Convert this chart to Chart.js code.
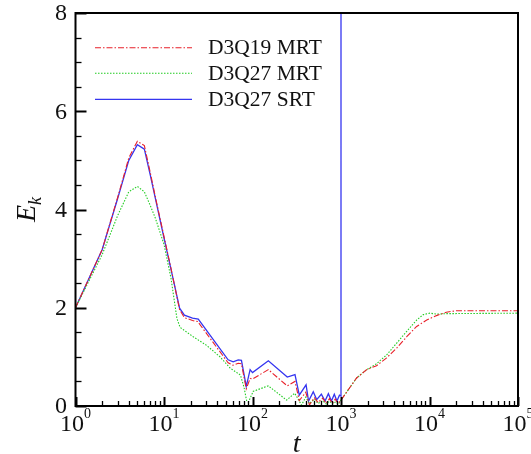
<!DOCTYPE html>
<html>
<head>
<meta charset="utf-8">
<script src="https://cdn.jsdelivr.net/npm/chart.js@4/dist/chart.umd.min.js"></script>
<style>
  html, body { margin: 0; padding: 0; background: #fff; }
  canvas { display: block; }
  #fontWarm { position: absolute; left: -9999px; top: 0; font-family: "Liberation Serif"; }
</style>
</head>
<body>
<canvas id="ekChart" width="531" height="454"></canvas>
<span id="fontWarm">D3Q19 MRT 0123456789 <i>E k t</i></span>
<script>
// series labels
const seriesNames = ['D3Q19 MRT', 'D3Q27 MRT', 'D3Q27 SRT'];

// D3Q19 MRT (red, dash-dot)
const q19mrtT = [1, 2, 3, 4, 5, 6, 7, 8, 10, 12, 15, 17, 21, 24, 53, 60, 69, 75, 85, 94, 100, 151, 247, 302, 338, 400, 440, 500, 550, 620, 680, 740, 800, 860, 930, 1000,
  1500, 1950, 2520, 3280, 4260, 5530, 7160, 9300, 12000, 15500, 20300, 100000];
const q19mrtE = [2.0, 3.18, 4.25, 5.05, 5.39, 5.3, 4.75, 4.25, 3.45, 2.8, 1.96, 1.8, 1.74, 1.72, 0.88, 0.83, 0.87, 0.86, 0.35, 0.56, 0.55, 0.74, 0.41, 0.5, 0.11, 0.28, 0.02, 0.17, 0.07, 0.16, 0.05, 0.15, 0.05, 0.14, 0.05, 0.12,
  0.57, 0.74, 0.82, 0.98, 1.18, 1.41, 1.62, 1.75, 1.84, 1.91, 1.94, 1.94];

// D3Q27 MRT (green, dotted)
const q27mrtT = [1, 2, 3, 4, 5, 6, 7, 8, 10, 12, 14, 15.2, 21.4, 30, 43, 56, 73, 80, 86, 90, 102, 151, 243, 300, 358, 400, 440, 500, 550, 620, 680, 740, 800, 860, 930, 1000,
  1500, 1950, 2520, 3280, 4260, 5530, 7160, 8510, 10100, 12000, 15500, 100000];
const q27mrtE = [2.0, 3.08, 3.88, 4.36, 4.47, 4.36, 4.08, 3.82, 3.29, 2.6, 1.78, 1.6, 1.41, 1.24, 1.0, 0.77, 0.63, 0.39, 0.1, 0.08, 0.3, 0.41, 0.12, 0.26, 0.02, 0.18, 0.05, 0.14, 0.05, 0.11, 0.04, 0.1, 0.04, 0.08, 0.03, 0.12,
  0.57, 0.74, 0.86, 1.04, 1.28, 1.52, 1.75, 1.86, 1.89, 1.87, 1.88, 1.89];

// D3Q27 SRT (blue, solid) - blows up at t = 1000
const q27srtT = [1, 2, 3, 4, 5, 6, 7, 8, 10, 12, 15, 17, 21, 24.4, 53, 60.5, 69, 75, 85, 94, 100, 151, 247, 302, 338, 403, 430, 486, 531, 600, 660, 720, 780, 840, 900, 960, 1000, 1000];
const q27srtE = [2.0, 3.18, 4.23, 5.0, 5.32, 5.23, 4.7, 4.22, 3.42, 2.78, 1.99, 1.85, 1.79, 1.77, 0.94, 0.9, 0.94, 0.93, 0.4, 0.74, 0.68, 0.92, 0.59, 0.64, 0.22, 0.43, 0.1, 0.29, 0.13, 0.24, 0.1, 0.25, 0.1, 0.24, 0.1, 0.22, 0.2, 50];

// axis ticks
const xDecades = [0, 1, 2, 3, 4, 5];
const yMajor = [0, 2, 4, 6, 8];
const yMinorStep = 0.5;

const SERIF = '"Liberation Serif", "Times New Roman", Times, serif';

function toPoints(ts, es) {
  return ts.map((t, i) => ({ x: t, y: es[i] }));
}

// frame, inward ticks and tick labels
const axesPlugin = {
  id: 'axesPlugin',
  afterDatasetsDraw(chart) {
    const { ctx, chartArea: a, scales } = chart;
    const xs = scales.x, ys = scales.y;
    ctx.save();
    ctx.strokeStyle = '#000';

    // y ticks
    for (let v = 0; v <= 8 + 1e-9; v += yMinorStep) {
      const py = Math.round(ys.getPixelForValue(v)) + 0.5;
      const major = yMajor.includes(v);
      ctx.lineWidth = major ? 2 : 1.3;
      ctx.beginPath();
      ctx.moveTo(a.left, py);
      ctx.lineTo(a.left + (major ? 11 : 6), py);
      ctx.stroke();
    }

    // x ticks
    xDecades.forEach(d => {
      for (let m = 1; m <= 9; m++) {
        if (d === 5 && m > 1) break;
        const px = Math.round(xs.getPixelForValue(m * Math.pow(10, d))) + 0.5;
        const major = m === 1;
        ctx.lineWidth = major ? 2 : 1.3;
        ctx.beginPath();
        ctx.moveTo(px, a.bottom);
        ctx.lineTo(px, a.bottom - (major ? 9 : 5));
        ctx.stroke();
      }
    });

    // frame
    ctx.lineWidth = 2;
    ctx.strokeRect(a.left, a.top, a.right - a.left, a.bottom - a.top);

    // y labels
    ctx.fillStyle = '#111';
    ctx.font = '24px ' + SERIF;
    ctx.textAlign = 'right';
    ctx.textBaseline = 'middle';
    yMajor.forEach(v => {
      ctx.fillText(String(v), 67, ys.getPixelForValue(v) + 1);
    });

    // x labels: 10 with superscript exponent
    ctx.textAlign = 'left';
    ctx.textBaseline = 'alphabetic';
    xDecades.forEach(d => {
      const px = xs.getPixelForValue(Math.pow(10, d));
      ctx.font = '24px ' + SERIF;
      const w1 = ctx.measureText('10').width;
      ctx.font = '14px ' + SERIF;
      const w2 = ctx.measureText(String(d)).width;
      const x0 = px - (w1 + w2) / 2;
      ctx.font = '24px ' + SERIF;
      ctx.fillText('10', x0, 431);
      ctx.font = '14px ' + SERIF;
      ctx.fillText(String(d), x0 + w1, 418);
    });

    // axis titles
    ctx.font = 'italic 28px ' + SERIF;
    ctx.textAlign = 'center';
    ctx.fillText('t', (a.left + a.right) / 2, 452);

    ctx.save();
    ctx.translate(35, (a.top + a.bottom) / 2);
    ctx.rotate(-Math.PI / 2);
    ctx.font = 'italic 28px ' + SERIF;
    const wE = ctx.measureText('E').width;
    ctx.font = 'italic 18px ' + SERIF;
    const wk = ctx.measureText('k').width;
    const sx = -(wE + wk) / 2;
    ctx.textAlign = 'left';
    ctx.font = 'italic 28px ' + SERIF;
    ctx.fillText('E', sx, 0);
    ctx.font = 'italic 18px ' + SERIF;
    ctx.fillText('k', sx + wE, 6);
    ctx.restore();

    // legend inside plot
    const rows = [47.7, 73.3, 99.3];
    chart.data.datasets.forEach((ds, i) => {
      ctx.strokeStyle = ds.borderColor;
      ctx.lineWidth = ds.borderWidth;
      ctx.setLineDash(ds.borderDash || []);
      ctx.beginPath();
      ctx.moveTo(95, rows[i]);
      ctx.lineTo(192, rows[i]);
      ctx.stroke();
      ctx.setLineDash([]);
      ctx.fillStyle = '#111';
      ctx.font = '21.5px ' + SERIF;
      ctx.textAlign = 'left';
      ctx.textBaseline = 'middle';
      ctx.fillText(ds.label, 208, rows[i] + 1);
    });
    ctx.restore();
  }
};

function drawChart() {
  new Chart(document.getElementById('ekChart'), {
    type: 'line',
    data: {
      datasets: [
        {
          label: seriesNames[0],
          data: toPoints(q19mrtT, q19mrtE),
          borderColor: '#e8202a',
          borderWidth: 1.1,
          borderDash: [6, 2, 1.5, 2]
        },
        {
          label: seriesNames[1],
          data: toPoints(q27mrtT, q27mrtE),
          borderColor: '#22cc22',
          borderWidth: 1.1,
          borderDash: [1.5, 1.5]
        },
        {
          label: seriesNames[2],
          data: toPoints(q27srtT, q27srtE),
          borderColor: '#3535f0',
          borderWidth: 1.3
        }
      ]
    },
    options: {
      responsive: false,
      animation: false,
      devicePixelRatio: 1,
      layout: { padding: { left: 75.5, right: 13, top: 13, bottom: 48 } },
      elements: { point: { radius: 0 }, line: { tension: 0 } },
      plugins: { legend: { display: false }, tooltip: { enabled: false } },
      scales: {
        x: { type: 'logarithmic', min: 1, max: 100000, display: false },
        y: { type: 'linear', min: 0, max: 8, display: false }
      }
    },
    plugins: [axesPlugin]
  });
}

Promise.all([
  document.fonts.load('24px "Liberation Serif"'),
  document.fonts.load('italic 28px "Liberation Serif"')
]).then(drawChart, drawChart);
</script>
</body>
</html>
